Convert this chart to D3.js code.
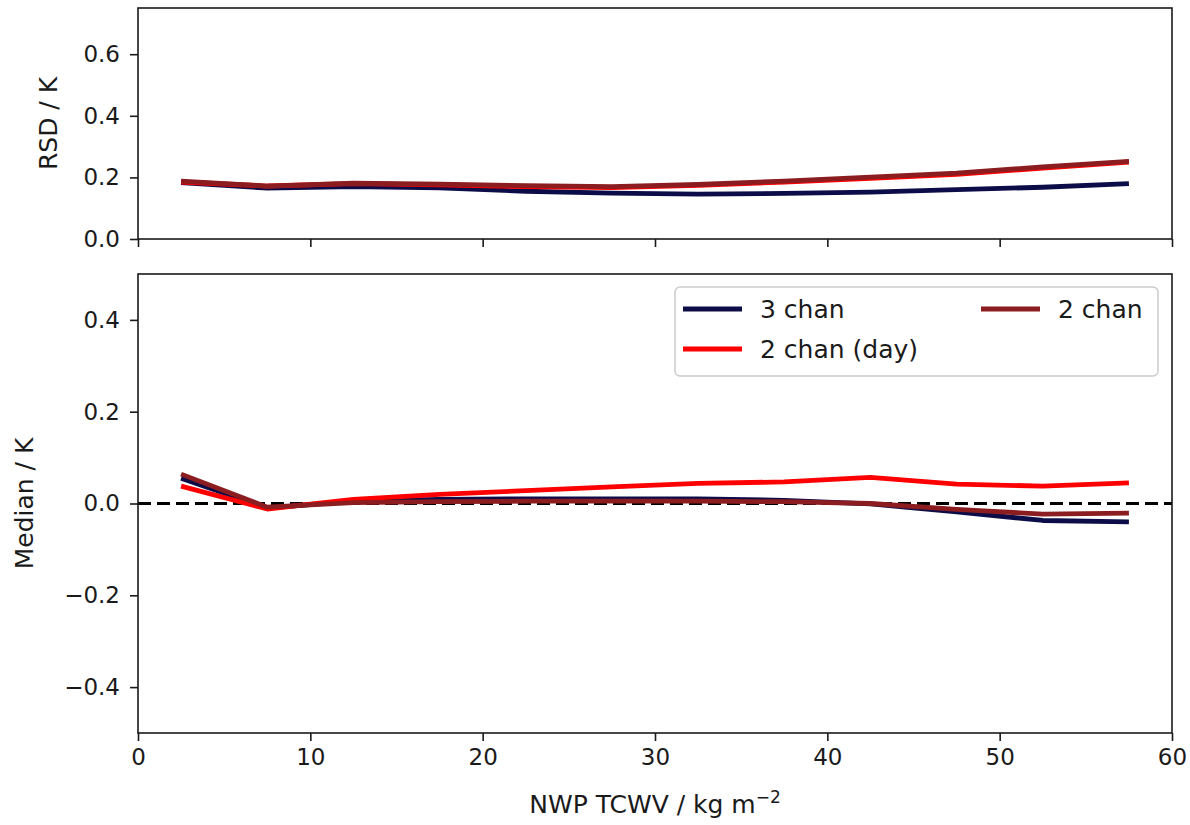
<!DOCTYPE html>
<html>
<head>
<meta charset="utf-8">
<script src="https://cdn.jsdelivr.net/npm/d3@7"></script>
<style>
  html, body { margin: 0; padding: 0; background: #fff; }
  svg { display: block; font-family: "DejaVu Sans", sans-serif; }
</style>
</head>
<body>
<svg id="chart" width="1190" height="825"></svg>
<script>
// TCWV bin centres (kg m^-2)
const tcwv = [2.5, 7.5, 12.5, 17.5, 22.5, 27.5, 32.5, 37.5, 42.5, 47.5, 52.5, 57.5];

// Robust standard deviation (K) per retrieval
const rsd3chan    = [0.183, 0.165, 0.170, 0.166, 0.155, 0.149, 0.146, 0.148, 0.152, 0.160, 0.168, 0.180];
const rsd2chanDay = [0.185, 0.172, 0.180, 0.176, 0.170, 0.167, 0.174, 0.185, 0.197, 0.210, 0.230, 0.250];
const rsd2chan    = [0.188, 0.172, 0.181, 0.178, 0.173, 0.170, 0.177, 0.188, 0.201, 0.214, 0.234, 0.252];

// Median difference (K) per retrieval
const med3chan    = [0.055, -0.010, 0.005, 0.009, 0.010, 0.010, 0.010, 0.007, -0.001, -0.018, -0.037, -0.040];
const med2chanDay = [0.038, -0.012, 0.009, 0.020, 0.028, 0.036, 0.044, 0.047, 0.057, 0.042, 0.038, 0.045];
const med2chan    = [0.064, -0.008, 0.002, 0.004, 0.005, 0.005, 0.005, 0.004, 0.000, -0.013, -0.023, -0.021];

const seriesNames = ["3 chan", "2 chan (day)", "2 chan"];
const seriesColors = ["#0c0c48", "#ff0000", "#8b1c1f"];

const xTicks = [0, 10, 20, 30, 40, 50, 60];
const rsdTicks = [0.0, 0.2, 0.4, 0.6];
const medTicks = [-0.4, -0.2, 0.0, 0.2, 0.4];

const svg = d3.select("#chart");
const TICK_FONT = 23;
const LABEL_FONT = 25;
const left = 138, right = 1172;

const x = d3.scaleLinear().domain([0, 60]).range([left, right]);

const panels = [
  { top: 8, bottom: 239, domain: [0, 0.75], ticks: rsdTicks, label: "RSD / K", labelX: 48,
    data: [rsd3chan, rsd2chanDay, rsd2chan], xLabels: false },
  { top: 274, bottom: 733, domain: [-0.5, 0.5], ticks: medTicks, label: "Median / K", labelX: 24,
    data: [med3chan, med2chanDay, med2chan], xLabels: true, zeroLine: true, legend: true }
];

const fmt = v => {
  const s = Math.abs(v).toFixed(1);
  return v < -1e-9 ? "\u2212" + s : s;
};

panels.forEach(p => {
  const y = d3.scaleLinear().domain(p.domain).range([p.bottom, p.top]);
  const g = svg.append("g");

  // zero reference
  if (p.zeroLine) {
    g.append("line")
      .attr("x1", left).attr("x2", right)
      .attr("y1", y(0)).attr("y2", y(0))
      .attr("stroke", "#000").attr("stroke-width", 3)
      .attr("stroke-dasharray", "13,6");
  }

  const line = d3.line().x((d, i) => x(tcwv[i])).y(d => y(d));
  p.data.forEach((vals, k) => {
    g.append("path")
      .datum(vals)
      .attr("d", line)
      .attr("fill", "none")
      .attr("stroke", seriesColors[k])
      .attr("stroke-width", 4.8)
      .attr("stroke-linejoin", "round")
      .attr("stroke-linecap", "butt");
  });

  // frame
  g.append("rect")
    .attr("x", left).attr("y", p.top)
    .attr("width", right - left).attr("height", p.bottom - p.top)
    .attr("fill", "none").attr("stroke", "#1a1a1a").attr("stroke-width", 1.6);

  // axes
  const yAxis = d3.axisLeft(y).tickValues(p.ticks).tickFormat(fmt).tickSize(8).tickPadding(10);
  const ya = g.append("g").attr("transform", `translate(${left},0)`).call(yAxis);
  const xAxis = d3.axisBottom(x).tickValues(xTicks).tickSize(8).tickPadding(8)
    .tickFormat(p.xLabels ? d3.format("d") : () => "");
  const xa = g.append("g").attr("transform", `translate(0,${p.bottom})`).call(xAxis);

  [ya, xa].forEach(a => {
    a.select(".domain").remove();
    a.selectAll(".tick line").attr("stroke", "#1a1a1a").attr("stroke-width", 1.6);
    a.selectAll(".tick text")
      .attr("fill", "#1a1a1a")
      .style("font-size", TICK_FONT + "px")
      .style("font-family", "'DejaVu Sans', sans-serif");
  });

  // y label
  g.append("text")
    .attr("transform", `translate(${p.labelX},${(p.top + p.bottom) / 2}) rotate(-90)`)
    .attr("text-anchor", "middle")
    .attr("dominant-baseline", "central")
    .attr("fill", "#1a1a1a")
    .style("font-size", LABEL_FONT + "px")
    .text(p.label);

  // legend
  if (p.legend) {
    const lg = svg.append("g");
    lg.append("rect")
      .attr("x", 675).attr("y", 287).attr("width", 483).attr("height", 89)
      .attr("rx", 5).attr("fill", "#fff").attr("fill-opacity", 0.8)
      .attr("stroke", "#cccccc").attr("stroke-width", 1.5);
    const positions = [
      { lx: 683, ty: 309 },
      { lx: 683, ty: 349 },
      { lx: 981, ty: 309 }
    ];
    seriesNames.forEach((name, k) => {
      const pos = positions[k];
      lg.append("line")
        .attr("x1", pos.lx).attr("x2", pos.lx + 59)
        .attr("y1", pos.ty).attr("y2", pos.ty)
        .attr("stroke", seriesColors[k]).attr("stroke-width", 4.8);
      lg.append("text")
        .attr("x", pos.lx + 77).attr("y", pos.ty)
        .attr("dominant-baseline", "central")
        .attr("fill", "#1a1a1a")
        .style("font-size", LABEL_FONT + "px")
        .text(name);
    });
  }
});

// x label
const xl = svg.append("text")
  .attr("x", (left + right) / 2).attr("y", 813)
  .attr("text-anchor", "middle")
  .attr("fill", "#1a1a1a")
  .style("font-size", LABEL_FONT + "px");
xl.append("tspan").text("NWP TCWV / kg m");
xl.append("tspan").attr("dy", -10).style("font-size", "17px").text("\u22122");
</script>
</body>
</html>
